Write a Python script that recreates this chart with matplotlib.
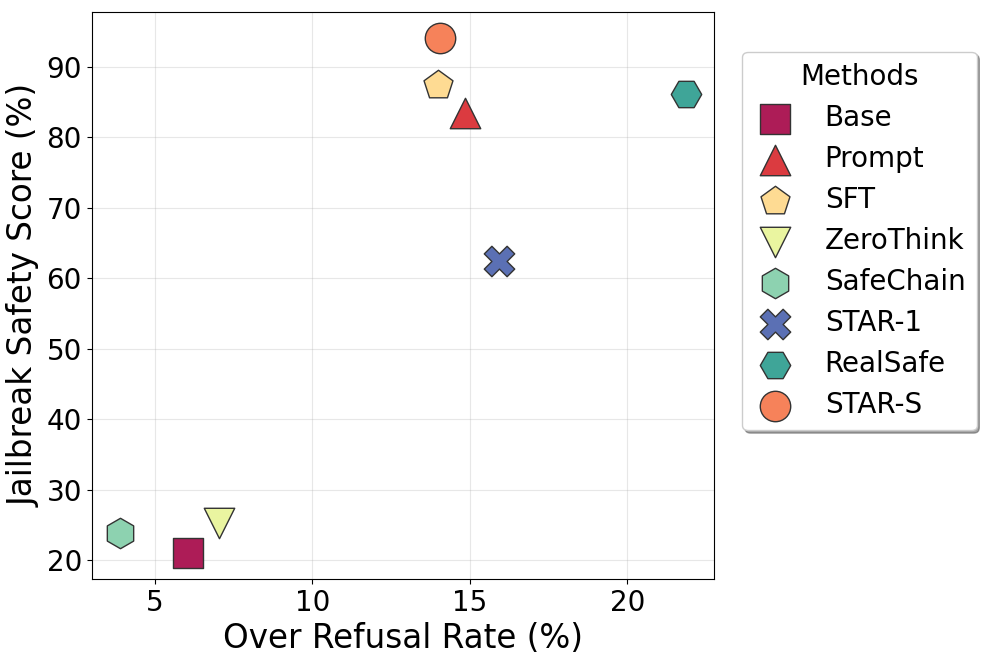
import matplotlib
matplotlib.use("Agg")
from matplotlib import pyplot as plt

methods = ["Base", "Prompt", "SFT", "ZeroThink", "SafeChain", "STAR-1", "RealSafe", "STAR-S"]
over_refusal = [6.05, 14.85, 14.0, 7.05, 3.9, 15.92, 21.86, 14.05]
jailbreak_safety = [21.0, 83.5, 87.4, 25.3, 23.8, 62.4, 86.2, 94.1]
markers = ["s", "^", "p", "v", "h", "X", "H", "o"]
colors = ["#ad1c57", "#db3b40", "#fedb93", "#eaf5a0", "#8dd2b0", "#5b70b4", "#3fa598", "#f6825a"]

fig, ax = plt.subplots(figsize=(9.96, 6.64), dpi=100)

for m, x, y, mk, c in zip(methods, over_refusal, jailbreak_safety, markers, colors):
    ax.scatter(x, y, s=480, marker=mk, color=c, edgecolors="#333333",
               linewidths=1, label=m, zorder=3)

ax.set_xlim(3.0, 22.75)
ax.set_ylim(17.3, 97.8)
ax.set_xticks([5, 10, 15, 20])
ax.set_yticks([20, 30, 40, 50, 60, 70, 80, 90])
ax.tick_params(labelsize=20)
ax.grid(True, alpha=0.3)
ax.set_xlabel("Over Refusal Rate (%)", fontsize=23.5)
ax.set_ylabel("Jailbreak Safety Score (%)", fontsize=23.5)

leg = ax.legend(title="Methods", fontsize=20, title_fontsize=20,
                loc="upper left", bbox_to_anchor=(1.045, 0.93),
                borderaxespad=0, shadow=True, fancybox=True,
                handlelength=1.6, handletextpad=0.97,
                labelspacing=0.47, borderpad=0.4)

plt.subplots_adjust(left=0.092, right=0.717, top=0.982, bottom=0.128)
plt.savefig("out.png", dpi=100)
